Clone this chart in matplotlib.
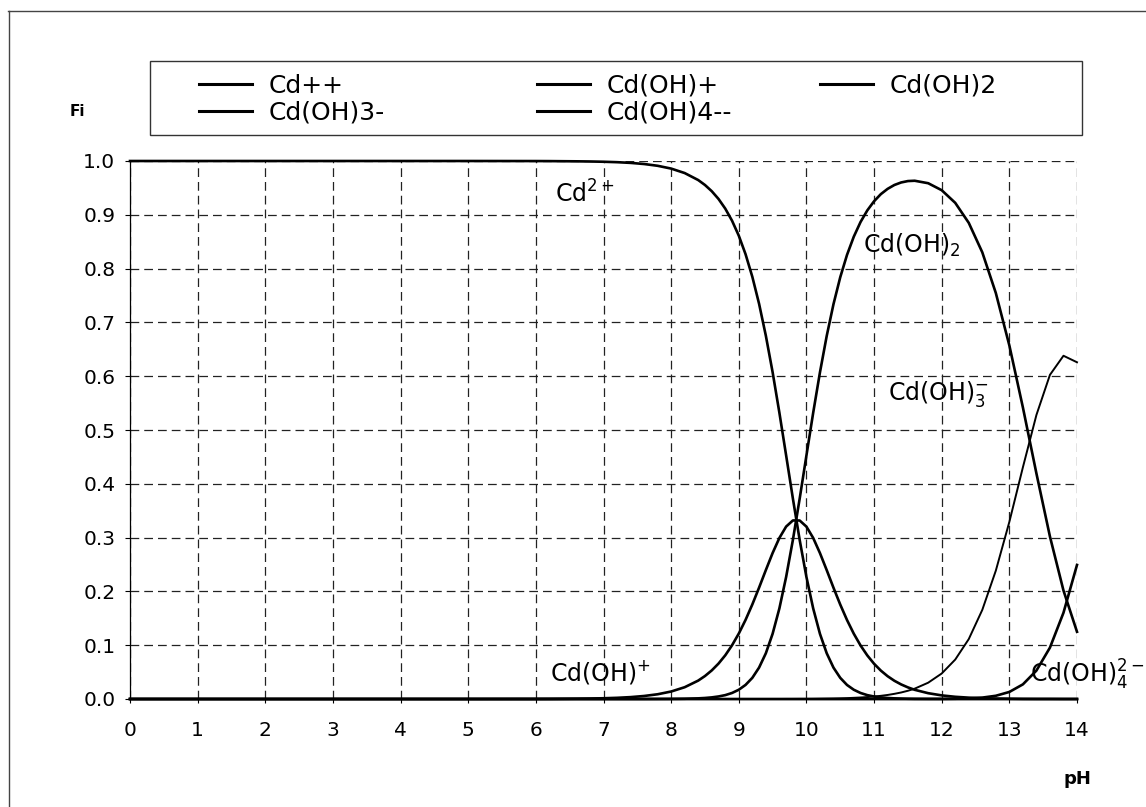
import matplotlib
matplotlib.use("Agg")
import matplotlib.pyplot as plt
from matplotlib.lines import Line2D
from matplotlib.patches import Rectangle

plt.rcParams["font.family"] = ["DejaVu Sans"]
plt.rcParams["mathtext.fontset"] = "dejavusans"

# species distribution of Cd(II) vs pH
ph = [0, 1, 2, 3, 4, 5,
      6.0, 6.2, 6.4, 6.6, 6.8, 7.0, 7.2, 7.4, 7.6, 7.8, 8.0, 8.2, 8.4,
      8.5, 8.6, 8.7, 8.8, 8.9, 9.0, 9.1, 9.2, 9.3, 9.4, 9.5, 9.6, 9.7, 9.8, 9.9,
      10.0, 10.1, 10.2, 10.3, 10.4, 10.5, 10.6, 10.7, 10.8, 10.9,
      11.0, 11.1, 11.2, 11.3, 11.4, 11.5,
      11.6, 11.8, 12.0, 12.2, 12.4, 12.6, 12.8, 13.0, 13.2, 13.4, 13.6, 13.8, 14.0]

cd = [1.0, 1.0, 1.0, 1.0, 1.0, 1.0,
      0.9999, 0.9998, 0.9996, 0.9994, 0.9991, 0.9986, 0.9978, 0.9965, 0.9944,
      0.9911, 0.9859, 0.9776, 0.9646,
      0.9554, 0.9439, 0.9295, 0.9115, 0.8891, 0.8612, 0.8268, 0.7849, 0.7346,
      0.6753, 0.6075, 0.5323, 0.4527, 0.3724, 0.2957, 0.2268, 0.1683, 0.1211,
      0.0850, 0.0583, 0.0393, 0.0261, 0.0172, 0.0112, 0.0072, 0.0046, 0.0030,
      0.0019, 0.0012, 0.0008, 0.0005,
      0.0003, 0.0001] + [0.0] * 11

cdoh = [0.0] * 6 + [
    0.0001, 0.0002, 0.0004, 0.0006, 0.0009, 0.0014, 0.0022, 0.0035, 0.0056,
    0.0088, 0.0139, 0.0219, 0.0342,
    0.0427, 0.0531, 0.0658, 0.0812, 0.0998, 0.1216, 0.1470, 0.1757, 0.2070,
    0.2396, 0.2713, 0.2993, 0.3205, 0.3319, 0.3318, 0.3204, 0.2993, 0.2712,
    0.2395, 0.2068, 0.1755, 0.1468, 0.1214, 0.0995, 0.0810, 0.0655, 0.0528,
    0.0424, 0.0339, 0.0271, 0.0216,
    0.0171, 0.0108, 0.0067, 0.0041, 0.0025, 0.0015, 0.0008, 0.0005, 0.0002,
    0.0001, 0.0001, 0.0, 0.0]

cdoh2 = [0.0] * 15 + [
    0.0001, 0.0002, 0.0005, 0.0012,
    0.0019, 0.0030, 0.0047, 0.0072, 0.0112, 0.0172, 0.0262, 0.0393, 0.0584,
    0.0850, 0.1212, 0.1683, 0.2269, 0.2958, 0.3723, 0.4526, 0.5321, 0.6072,
    0.6749, 0.7339, 0.7840, 0.8255, 0.8593, 0.8866, 0.9082, 0.9252, 0.9384,
    0.9482, 0.9554, 0.9601, 0.9627,
    0.9633, 0.9587, 0.9457, 0.9222, 0.8850, 0.8302, 0.7546, 0.6571, 0.5420,
    0.4193, 0.3020, 0.2017, 0.1249]

cdoh3 = [0.0] * 31 + [
    0.0001, 0.0001, 0.0002, 0.0002, 0.0003, 0.0005, 0.0007, 0.0009, 0.0012,
    0.0016, 0.0022, 0.0028, 0.0036, 0.0046, 0.0059, 0.0075, 0.0096, 0.0121,
    0.0153,
    0.0192, 0.0303, 0.0474, 0.0733, 0.1114, 0.1657, 0.2386, 0.3293, 0.4306,
    0.5279, 0.6025, 0.6380, 0.6259]

cdoh4 = [0.0] * 50 + [
    0.0, 0.0001, 0.0002, 0.0005, 0.0011, 0.0026, 0.0060, 0.0131, 0.0272,
    0.0528, 0.0955, 0.1603, 0.2492]

names = ["Cd++", "Cd(OH)+", "Cd(OH)2", "Cd(OH)3-", "Cd(OH)4--"]
series = [cd, cdoh, cdoh2, cdoh3, cdoh4]
widths = [1.9, 1.9, 1.9, 1.4, 1.9]

W, H = 1146, 807
fig = plt.figure(figsize=(W / 100, H / 100), dpi=100)
ax = fig.add_axes([130 / W, 1 - 699 / H, 947 / W, 538 / H])

lines = []
for name, vals, lw in zip(names, series, widths):
    ln, = ax.plot(ph, vals, color="black", lw=lw, label=name, clip_on=False, zorder=3)
    lines.append(ln)

ax.set_xlim(0, 14)
ax.set_ylim(0, 1)
ax.set_xticks(range(0, 15))
ax.set_yticks([i / 10 for i in range(11)])
ax.set_yticklabels([f"{i / 10:.1f}" for i in range(11)])
ax.grid(True, color="#222222", lw=0.9, linestyle=(0, (7, 4)))
ax.set_axisbelow(True)
for side in ["top", "right"]:
    ax.spines[side].set_visible(False)
ax.spines["left"].set_linewidth(0.9)
ax.spines["bottom"].set_linewidth(0.9)
ax.tick_params(axis="y", direction="out", length=3.6, width=0.8, pad=7, labelsize=14.5)
ax.tick_params(axis="x", direction="out", length=3, width=0.8, pad=13, labelsize=14.5)

# curve labels
lab = dict(fontsize=17, color="black", zorder=4)
ax.text(6.28, 0.923, r"Cd$^{2+}$", **lab)
ax.text(10.83, 0.83, r"Cd(OH)$_2$", **lab)
ax.text(11.2, 0.555, r"Cd(OH)$_3^{-}$", **lab)
ax.text(6.21, 0.035, r"Cd(OH)$^{+}$", **lab)
ax.text(13.31, 0.03, r"Cd(OH)$_4^{2-}$", clip_on=False, **lab)

fig.text(77 / W, 1 - 111 / H, "Fi", fontsize=11, fontweight="bold", ha="center", va="center")
fig.text(1077 / W, 1 - 779 / H, "pH", fontsize=13, fontweight="bold", ha="center", va="center")

# legend: frame plus three columns
fig.add_artist(Rectangle((150 / W, 1 - 135 / H), 932 / W, 74 / H, transform=fig.transFigure,
                         fill=False, ec="#333333", lw=1))
columns = [([0, 3], 199), ([1, 4], 537), ([2], 820)]
for idx, x0 in columns:
    leg = fig.legend([lines[i] for i in idx], [names[i] for i in idx], loc="upper left",
                     bbox_to_anchor=(x0 / W, 1 - 74 / H), frameon=False, borderpad=0,
                     borderaxespad=0, handlelength=2.12, handletextpad=0.68,
                     labelspacing=0.1, fontsize=18)
    for h in leg.legend_handles:
        h.set_linewidth(2.2)

# outer frame (top and left edges)
fig.add_artist(Line2D([8 / W, 1], [1 - 11 / H, 1 - 11 / H], transform=fig.transFigure,
                      color="#444444", lw=1))
fig.add_artist(Line2D([9 / W, 9 / W], [0, 1 - 11 / H], transform=fig.transFigure,
                      color="#444444", lw=1))

fig.savefig("out.png", dpi=100)
